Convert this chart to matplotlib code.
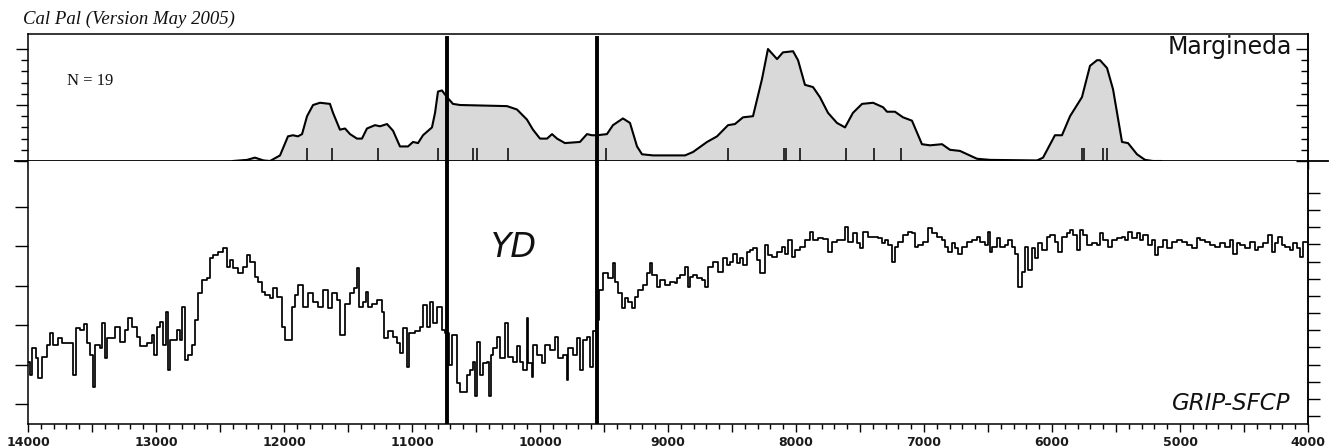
import matplotlib
matplotlib.use("Agg")
import matplotlib.pyplot as plt
from matplotlib.ticker import FixedLocator, FixedFormatter, MultipleLocator, NullFormatter

# ---------------- data ----------------
# Margineda summed calibrated probability (arbitrary units, 0..10 scale)
dens_years = [12400, 12289, 12227, 12160, 12109, 12031, 11969, 11930, 11891, 11859,
              11820, 11773, 11719, 11641, 11617, 11563, 11523, 11484, 11430, 11391,
              11352, 11289, 11250, 11195, 11148, 11094, 11031, 10992, 10953, 10914,
              10844, 10820, 10797, 10766, 10727, 10680, 10625, 10258, 10180, 10102,
              10055, 10000, 9945, 9906, 9867, 9805, 9688, 9633, 9594, 9555,
              9477, 9430, 9352, 9297, 9242, 9203, 9117, 8961, 8867, 8805,
              8695, 8617, 8531, 8477, 8414, 8336, 8266, 8219, 8148, 8102,
              8023, 7984, 7930, 7867, 7813, 7750, 7680, 7617, 7555, 7484,
              7398, 7320, 7289, 7227, 7164, 7094, 7016, 6953, 6859, 6797,
              6719, 6586, 6484, 6117, 6070, 5977, 5922, 5859, 5766, 5703,
              5648, 5625, 5570, 5523, 5453, 5406, 5336, 5273, 5211, 5150]
dens_vals = [0.0, 0.1, 0.3, 0.05, 0.0, 0.5, 2.2, 2.3, 2.2, 2.4,
             4.0, 5.0, 5.2, 5.1, 4.3, 2.8, 2.9, 2.4, 2.0, 2.0,
             2.9, 3.2, 3.1, 3.3, 2.7, 1.3, 1.3, 1.7, 1.6, 2.3,
             3.0, 4.3, 6.2, 6.3, 5.7, 5.1, 5.0, 4.9, 4.6, 3.7,
             2.8, 2.0, 2.0, 2.4, 2.0, 1.6, 1.7, 2.4, 2.3, 2.3,
             2.4, 3.2, 3.8, 3.4, 1.3, 0.6, 0.5, 0.5, 0.5, 0.8,
             1.7, 2.2, 3.2, 3.3, 3.9, 4.0, 7.3, 10.0, 9.1, 9.7,
             9.8, 9.0, 6.8, 6.6, 5.7, 4.3, 3.4, 3.0, 4.3, 5.1,
             5.2, 4.8, 4.4, 4.4, 3.9, 3.6, 1.5, 1.4, 1.5, 1.0,
             0.9, 0.2, 0.1, 0.05, 0.3, 2.3, 2.3, 4.0, 5.7, 8.5,
             9.0, 9.0, 8.3, 6.4, 1.7, 1.6, 0.6, 0.1, 0.0, 0.0]

# individual calibrated dates (N = 19)
rug_years = [11820, 11625, 11266, 10797, 10523, 10492, 10250, 9484, 8531, 8094,
             8078, 7969, 7609, 7391, 7180, 5766, 5750, 5602, 5570]

# GRIP-SFCP step record: start year of each step and its level (left-axis units)
grip_years = [14000, 13984, 13966, 13940, 13919, 13893, 13854, 13828, 13802, 13763,
              13737, 13646, 13627, 13593, 13560, 13539, 13513, 13495, 13476, 13437,
              13424, 13398, 13380, 13320, 13281, 13242, 13216, 13190, 13151, 13125,
              13073, 13034, 13013, 12995, 12969, 12943, 12924, 12909, 12891, 12839,
              12813, 12794, 12773, 12752, 12721, 12695, 12669, 12643, 12604, 12578,
              12552, 12513, 12474, 12448, 12422, 12396, 12357, 12318, 12292, 12266,
              12226, 12200, 12174, 12148, 12109, 12083, 12057, 12018, 11992, 11940,
              11914, 11888, 11849, 11810, 11771, 11732, 11692, 11653, 11627, 11588,
              11562, 11523, 11484, 11450, 11432, 11414, 11380, 11362, 11346, 11315,
              11276, 11237, 11216, 11190, 11145, 11120, 11093, 11067, 11041, 11020,
              10976, 10937, 10911, 10885, 10859, 10833, 10807, 10768, 10742, 10711,
              10690, 10651, 10625, 10573, 10547, 10521, 10508, 10492, 10469, 10443,
              10417, 10398, 10385, 10364, 10338, 10312, 10273, 10247, 10208, 10182,
              10156, 10130, 10104, 10091, 10065, 10052, 10026, 9987, 9961, 9922,
              9883, 9857, 9817, 9791, 9778, 9739, 9713, 9687, 9661, 9635,
              9609, 9583, 9565, 9539, 9505, 9466, 9427, 9414, 9388, 9362,
              9336, 9310, 9284, 9258, 9232, 9192, 9166, 9140, 9127, 9088,
              9062, 9023, 8984, 8945, 8932, 8906, 8867, 8846, 8828, 8802,
              8776, 8737, 8711, 8685, 8646, 8606, 8567, 8541, 8515, 8489,
              8463, 8437, 8411, 8385, 8359, 8333, 8307, 8281, 8242, 8216,
              8190, 8151, 8112, 8086, 8060, 8034, 8008, 7969, 7929, 7890,
              7864, 7825, 7786, 7747, 7721, 7682, 7617, 7591, 7552, 7526,
              7500, 7474, 7435, 7356, 7330, 7304, 7278, 7252, 7226, 7200,
              7161, 7122, 7096, 7070, 7044, 7005, 6966, 6940, 6901, 6862,
              6836, 6810, 6784, 6758, 6732, 6706, 6667, 6627, 6588, 6562,
              6523, 6497, 6484, 6471, 6432, 6406, 6367, 6341, 6315, 6289,
              6263, 6237, 6211, 6185, 6159, 6132, 6106, 6080, 6041, 6015,
              5976, 5950, 5924, 5885, 5859, 5833, 5807, 5781, 5755, 5729,
              5690, 5651, 5625, 5599, 5560, 5534, 5494, 5455, 5429, 5403,
              5377, 5338, 5312, 5286, 5247, 5221, 5195, 5169, 5130, 5104,
              5065, 5026, 4987, 4948, 4909, 4870, 4844, 4805, 4766, 4726,
              4687, 4648, 4609, 4583, 4557, 4531, 4492, 4453, 4414, 4388,
              4349, 4310, 4284, 4258, 4232, 4206, 4180, 4140, 4114, 4088,
              4062, 4036]
grip_vals = [1.07, 0.74, 1.41, 1.16, 0.65, 1.20, 1.50, 1.79, 1.50, 1.67,
             1.54, 0.74, 1.92, 1.88, 2.02, 1.54, 1.24, 0.44, 1.50, 1.41,
             2.05, 1.16, 1.67, 1.96, 1.58, 1.88, 2.17, 1.96, 1.71, 1.46,
             1.54, 1.75, 1.24, 1.96, 2.09, 1.50, 2.34, 0.86, 1.62, 1.88,
             1.62, 2.47, 1.12, 1.24, 1.50, 2.13, 2.81, 3.15, 3.19, 3.70,
             3.78, 3.87, 3.95, 3.49, 3.65, 3.44, 3.32, 3.49, 3.78, 3.61,
             3.23, 3.10, 2.85, 2.77, 2.68, 2.94, 2.72, 1.96, 1.62, 2.47,
             2.77, 3.02, 2.47, 2.81, 2.60, 2.47, 2.89, 2.43, 2.81, 2.64,
             1.75, 2.55, 2.81, 2.94, 3.44, 2.47, 2.60, 2.85, 2.47, 2.55,
             2.64, 2.34, 1.67, 1.84, 1.71, 1.54, 1.29, 1.92, 0.95, 1.79,
             1.84, 1.96, 2.51, 1.96, 2.60, 2.05, 2.47, 1.88, 1.79, 0.99,
             1.75, 0.52, 0.31, 0.74, 0.86, 1.07, 0.19, 1.58, 0.74, 1.03,
             1.07, 0.19, 1.24, 1.41, 1.71, 1.16, 2.05, 1.20, 1.07, 1.46,
             1.07, 0.86, 2.17, 1.03, 0.69, 1.50, 1.24, 1.03, 1.50, 1.37,
             1.71, 1.16, 1.24, 0.61, 1.41, 1.24, 1.67, 0.86, 1.62, 1.71,
             0.95, 1.84, 2.13, 2.89, 3.32, 3.19, 3.57, 3.10, 2.81, 2.43,
             2.68, 2.60, 2.43, 2.72, 2.89, 3.02, 3.32, 3.57, 3.27, 2.98,
             3.15, 3.02, 3.10, 3.06, 3.19, 3.27, 3.49, 2.98, 3.23, 3.27,
             3.19, 3.15, 2.98, 3.49, 3.61, 3.36, 3.70, 3.53, 3.61, 3.82,
             3.57, 3.70, 3.53, 3.87, 3.91, 3.95, 3.66, 3.32, 4.04, 3.78,
             3.74, 3.87, 3.99, 3.82, 4.16, 3.74, 3.91, 3.99, 4.16, 4.37,
             4.16, 4.21, 4.19, 3.87, 4.12, 4.16, 4.50, 4.12, 4.33, 4.08,
             3.95, 4.37, 4.25, 4.21, 4.08, 4.16, 4.04, 3.61, 3.99, 4.12,
             4.29, 4.37, 4.33, 3.99, 4.04, 4.12, 4.46, 4.33, 4.25, 4.16,
             3.99, 3.87, 4.08, 3.95, 3.82, 3.99, 4.12, 4.16, 4.25, 4.12,
             4.04, 4.37, 3.87, 3.99, 4.21, 3.99, 4.04, 4.16, 3.99, 3.82,
             2.98, 3.36, 3.99, 3.40, 3.95, 3.70, 4.08, 3.91, 4.25, 4.29,
             4.12, 3.87, 4.25, 4.33, 4.42, 4.29, 3.91, 4.42, 4.29, 4.04,
             4.08, 4.04, 4.33, 4.16, 3.99, 4.16, 4.21, 4.25, 4.16, 4.37,
             4.21, 4.33, 4.16, 4.29, 4.04, 4.16, 3.78, 3.99, 4.16, 3.95,
             4.12, 4.16, 4.12, 4.04, 3.95, 4.21, 4.16, 4.12, 4.04, 3.99,
             4.08, 3.99, 4.16, 3.82, 4.08, 4.04, 3.95, 4.12, 3.91, 3.99,
             4.08, 4.29, 3.87, 4.08, 4.25, 4.04, 3.99, 3.91, 4.08, 3.95,
             3.74, 4.12]
grip_end_year = 4005

yd_bounds = [10727, 9555]

top_labels = [13000, 12000, 11000, 10000, 9000, 8000, 7000, 6000, 5000]
bot_labels = [14000, 13000, 12000, 11000, 10000, 9000, 8000, 7000, 6000, 5000, 4000]

# ---------------- layout ----------------
W, H = 1336, 448
fig = plt.figure(figsize=(W / 100, H / 100), dpi=100)
fig.patch.set_facecolor("white")


def fx(px):
    return px / W


def fy(py):
    return 1 - py / H


L, R = 28, 1308
TOP, MID, BOT = 34, 161, 424
ax_top = fig.add_axes([fx(L), fy(MID), (R - L) / W, (MID - TOP) / H])
ax_bot = fig.add_axes([fx(L), fy(BOT), (R - L) / W, (BOT - MID) / H])

XLIM = (14000, 4000)
lw_sp = 1.1
lab_col = "#1a1a1a"

# ---------------- top panel ----------------
ax_top.set_xlim(*XLIM)
ax_top.set_ylim(0, 11.34)
ax_top.fill_between(dens_years, 0, dens_vals, color="#d9d9d9", lw=0, zorder=1)
ax_top.plot(dens_years, dens_vals, color="black", lw=1.5, zorder=2,
            solid_joinstyle="round")
ax_top.vlines(rug_years, 0, 1.2, color="black", lw=1.1, zorder=3)

for s in ["top", "left", "right"]:
    ax_top.spines[s].set_linewidth(lw_sp)
ax_top.spines["bottom"].set_visible(False)
ax_top.plot([-0.0102, 1.0156], [0, 0], transform=ax_top.transAxes,
            color="black", lw=1.3, clip_on=False, zorder=4)

maj500 = list(range(4000, 14001, 500))
ax_top.xaxis.set_major_locator(FixedLocator(maj500))
ax_top.xaxis.set_major_formatter(FixedFormatter(
    [str(v) if v in top_labels else "" for v in maj500]))
ax_top.xaxis.set_minor_locator(MultipleLocator(100))
ax_top.tick_params(axis="x", which="major", direction="out", length=5.5, width=1.0,
                   pad=3, labelsize=9, labelcolor=lab_col)
ax_top.tick_params(axis="x", which="minor", direction="out", length=3.5, width=1.0)
for t in ax_top.get_xticklabels():
    t.set_fontweight("bold")

ax_top.yaxis.set_major_locator(FixedLocator([0, 5, 10]))
ax_top.yaxis.set_minor_locator(FixedLocator([1, 2, 3, 4, 6, 7, 8, 9]))
ax_top.yaxis.set_major_formatter(NullFormatter())
ax_top.tick_params(axis="y", which="major", direction="out", length=8.6, width=1.0)
ax_top.tick_params(axis="y", which="minor", direction="out", length=5, width=1.0)

ax_top_r = ax_top.twinx()
ax_top_r.set_ylim(ax_top.get_ylim())
for s in ["top", "left", "bottom"]:
    ax_top_r.spines[s].set_visible(False)
ax_top_r.spines["right"].set_linewidth(lw_sp)
ax_top_r.yaxis.set_major_locator(FixedLocator([0, 5, 10]))
ax_top_r.yaxis.set_minor_locator(FixedLocator([1, 2, 3, 4, 6, 7, 8, 9]))
ax_top_r.yaxis.set_major_formatter(NullFormatter())
ax_top_r.tick_params(axis="y", which="major", direction="in", length=8.6, width=1.0)
ax_top_r.tick_params(axis="y", which="minor", direction="in", length=5, width=1.0)

for yr in yd_bounds:
    ax_top.axvline(yr, ymin=0, ymax=0.9685, color="black", lw=2.8, zorder=5)

# ---------------- bottom panel ----------------
ax_bot.set_xlim(*XLIM)
ax_bot.set_ylim(-0.51, 6.17)
xs = grip_years + [grip_end_year]
ys = grip_vals + [grip_vals[-1]]
ax_bot.step(xs, ys, where="post", color="black", lw=1.25, zorder=2)

ax_bot.spines["top"].set_visible(False)
for s in ["bottom", "left", "right"]:
    ax_bot.spines[s].set_linewidth(lw_sp)

ax_bot.xaxis.set_major_locator(FixedLocator(maj500))
ax_bot.xaxis.set_major_formatter(FixedFormatter(
    [str(v) if v in bot_labels else "" for v in maj500]))
ax_bot.xaxis.set_minor_locator(MultipleLocator(100))
ax_bot.tick_params(axis="x", which="major", direction="out", length=5.5, width=1.0,
                   pad=3, labelsize=9, labelcolor=lab_col)
ax_bot.tick_params(axis="x", which="minor", direction="out", length=3.5, width=1.0)
for t in ax_bot.get_xticklabels():
    t.set_fontweight("bold")

ax_bot.yaxis.set_major_locator(FixedLocator([0, 1, 2, 3, 4, 5]))
ax_bot.yaxis.set_major_formatter(NullFormatter())
ax_bot.tick_params(axis="y", which="major", direction="out", length=9.4, width=1.0)

ax_bot_r = ax_bot.twinx()
ax_bot_r.set_ylim(-0.47, 14.87)
for s in ["top", "left", "bottom"]:
    ax_bot_r.spines[s].set_visible(False)
ax_bot_r.spines["right"].set_linewidth(lw_sp)
ax_bot_r.yaxis.set_major_locator(FixedLocator(list(range(0, 14))))
ax_bot_r.yaxis.set_major_formatter(NullFormatter())
ax_bot_r.tick_params(axis="y", which="major", direction="out", length=8.6, width=1.0)

for yr in yd_bounds:
    ax_bot.axvline(yr, color="black", lw=2.8, zorder=5)

# ---------------- texts ----------------
fig.text(fx(23), fy(24), "Cal Pal (Version May 2005)", family="Liberation Serif",
         style="italic", fontsize=13.5, ha="left", va="baseline", color="#111111")
fig.text(fx(67), fy(85), "N = 19", family="Liberation Serif", fontsize=12,
         ha="left", va="baseline", color="#111111")
fig.text(fx(1292), fy(54), "Margineda", family="DejaVu Sans", fontsize=17,
         ha="right", va="baseline", color="#111111")
fig.text(fx(514), fy(257), "YD", family="DejaVu Sans", style="italic", fontsize=24,
         ha="center", va="baseline", color="#111111")
fig.text(fx(1290), fy(410), "GRIP-SFCP", family="DejaVu Sans", style="italic",
         fontsize=16.5, ha="right", va="baseline", color="#111111")

fig.savefig("out.png", dpi=100, facecolor="white")
